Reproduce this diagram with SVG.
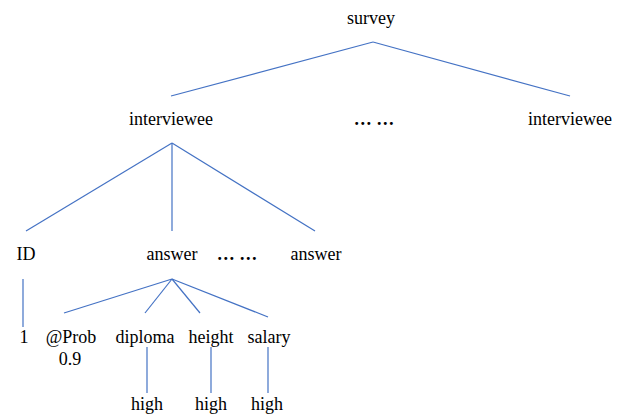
<svg xmlns="http://www.w3.org/2000/svg" width="635" height="417" viewBox="0 0 635 417">
<style>
text{font-family:"Liberation Serif","Times New Roman",serif;font-size:18px;fill:#000;text-anchor:middle}
.dots{font-weight:bold}
line{stroke:#4472C4;stroke-width:1.2}
</style>
<rect width="635" height="417" fill="#fff"/>
<g id="connectors">
<line x1="373" y1="42" x2="171" y2="96"/>
<line x1="373" y1="42" x2="570" y2="96"/>
<line x1="172" y1="143" x2="26" y2="231"/>
<line x1="172" y1="143" x2="172" y2="231"/>
<line x1="172" y1="143" x2="315" y2="231"/>
<line x1="23" y1="279" x2="23" y2="327"/>
<line x1="172" y1="279" x2="64" y2="313"/>
<line x1="172" y1="279" x2="145" y2="313"/>
<line x1="172" y1="279" x2="200" y2="313"/>
<line x1="172" y1="279" x2="268" y2="317"/>
<line x1="147" y1="347" x2="147" y2="393"/>
<line x1="211" y1="347" x2="211" y2="393"/>
<line x1="268" y1="347" x2="268" y2="393"/>
</g>
<g id="survey"><text x="371" y="24">survey</text></g>
<g id="interviewee1"><text x="171" y="125">interviewee</text></g>
<g id="ellipsis1"><text class="dots" x="374" y="125">… …</text></g>
<g id="interviewee2"><text x="570" y="125">interviewee</text></g>
<g id="id"><text x="26" y="260">ID</text></g>
<g id="answer1"><text x="172" y="260">answer</text></g>
<g id="ellipsis2"><text class="dots" x="237" y="260">… …</text></g>
<g id="answer2"><text x="316" y="260">answer</text></g>
<g id="one"><text x="24" y="343">1</text></g>
<g id="prob"><text x="71" y="343">@Prob</text><text x="70" y="365">0.9</text></g>
<g id="diploma"><text x="145" y="343">diploma</text></g>
<g id="height"><text x="211" y="343">height</text></g>
<g id="salary"><text x="269" y="343">salary</text></g>
<g id="high1"><text x="147" y="410">high</text></g>
<g id="high2"><text x="211" y="410">high</text></g>
<g id="high3"><text x="267" y="410">high</text></g>
</svg>
